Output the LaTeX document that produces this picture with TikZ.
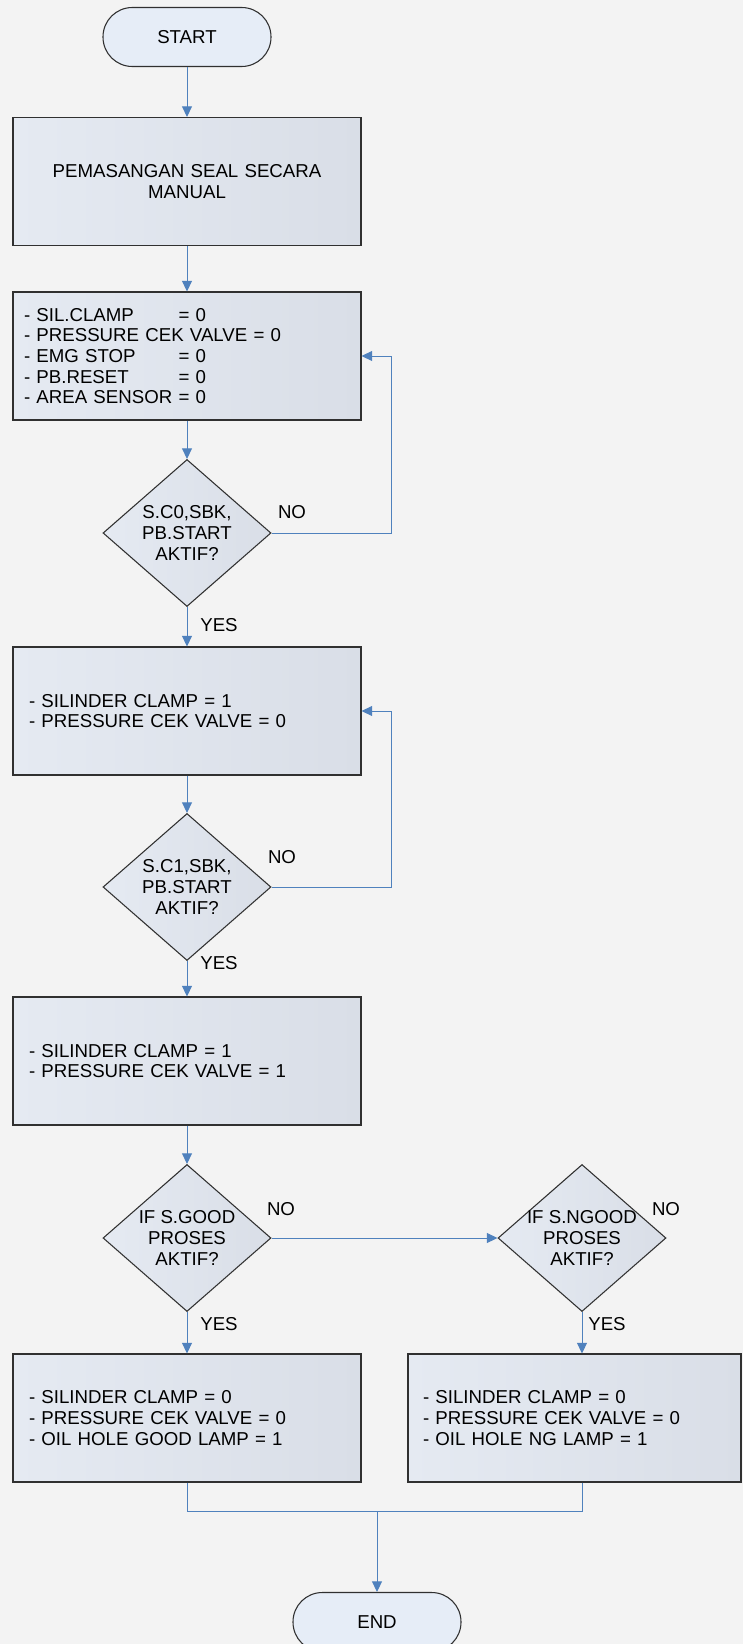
\documentclass[tikz,border=0pt]{standalone}
\usepackage{fontspec}
\setmainfont{Liberation Sans}
\usetikzlibrary{shapes.geometric,arrows.meta}

\definecolor{bggray}{HTML}{F3F3F3}
\definecolor{boxleft}{HTML}{E5EAF2}
\definecolor{boxright}{HTML}{D9DEE7}
\definecolor{termfill}{HTML}{E6EDF7}
\definecolor{flowblue}{HTML}{4F81BD}
\definecolor{edgegray}{HTML}{303030}

\begin{document}
\begin{tikzpicture}[
        % 1 unit = 1 pixel of the sheet
        x=0.75pt, y=-0.75pt,
        every node/.style={font=\fontsize{14pt}{15.5pt}\selectfont, text=black},
        % START / END
        terminal/.style={
            draw=edgegray, line width=0.8pt, fill=termfill,
            rectangle, rounded corners=22pt,
            minimum width=126pt, minimum height=44.25pt
        },
        % kotak proses
        process/.style={
            draw=edgegray, line width=0.8pt,
            left color=boxleft, right color=boxright,
            rectangle, minimum width=261pt, minimum height=96pt
        },
        steps/.style={process, align=left, inner xsep=12pt, text width=237pt},
        % keputusan
        decision/.style={
            draw=edgegray, line width=0.8pt,
            left color=boxleft, right color=boxright,
            diamond, minimum width=126pt, minimum height=110.25pt, inner sep=0pt
        },
        dectext/.style={align=center, inner sep=0pt},
        % panah alur
        flow/.style={draw=flowblue, line width=0.75pt, -{Triangle[length=8pt,width=7.5pt]}},
        link/.style={draw=flowblue, line width=0.75pt}
    ]

    \fill[bggray] (0,0) rectangle (743,1644);
    \useasboundingbox (0,0) rectangle (743,1644);

    % Kolom utama
    \node[terminal] (start) at (187,37) {START};
    \node[process, align=center, text width=240pt] (manual) at (187,181.5)
        {PEMASANGAN SEAL SECARA\\MANUAL};
    \node[steps, inner xsep=8.25pt, text width=244.5pt] (init) at (187,356) {%
        \leavevmode\rlap{- SIL.CLAMP}\phantom{- AREA SENSOR }= 0\\
        - PRESSURE CEK VALVE = 0\\
        \leavevmode\rlap{- EMG STOP}\phantom{- AREA SENSOR }= 0\\
        \leavevmode\rlap{- PB.RESET}\phantom{- AREA SENSOR }= 0\\
        - AREA SENSOR = 0};

    \node[decision] (dec1) at (187,533) {};
    \node[dectext] (dec1txt) at (dec1) {S.C0,SBK,\\PB.START\\AKTIF?};

    \node[steps] (clamp) at (187,711)
        {- SILINDER CLAMP = 1\\- PRESSURE CEK VALVE = 0};

    \node[decision] (dec2) at (187,887) {};
    \node[dectext] (dec2txt) at (dec2) {S.C1,SBK,\\PB.START\\AKTIF?};

    \node[steps] (press) at (187,1061)
        {- SILINDER CLAMP = 1\\- PRESSURE CEK VALVE = 1};

    \node[decision] (good) at (187,1238) {};
    \node[dectext] (goodtxt) at (good) {IF S.GOOD\\PROSES\\AKTIF?};

    \node[decision] (ngood) at (582,1238) {};
    \node[dectext] (ngoodtxt) at (ngood) {IF S.NGOOD\\PROSES\\AKTIF?};

    % Hasil
    \node[steps] (okbox) at (187,1418)
        {- SILINDER CLAMP = 0\\- PRESSURE CEK VALVE = 0\\- OIL HOLE GOOD LAMP = 1};
    \node[steps, minimum width=249.75pt, inner xsep=11.25pt, text width=227.25pt] (ngbox) at (574.5,1418)
        {- SILINDER CLAMP = 0\\- PRESSURE CEK VALVE = 0\\- OIL HOLE NG LAMP = 1};

    \node[terminal] (end) at (377,1622) {END};

    % Label YES / NO
    \node (no1) at (292,512) {NO};
    \node (yes1) at (219,625) {YES};
    \node (no2) at (282,857) {NO};
    \node (yes2) at (219,963) {YES};
    \node (no3) at (281,1209) {NO};
    \node (yes3) at (219,1324) {YES};
    \node (no4) at (666,1209) {NO};
    \node (yes4) at (607,1324) {YES};

    % Alur
    \draw[flow] (start) -- (manual);
    \draw[flow] (manual) -- (init);
    \draw[flow] (init) -- (dec1);
    \draw[flow] (dec1) -- (clamp);
    \draw[flow] (dec1.east) -- ++(120,0) |- (init.east);
    \draw[flow] (clamp) -- (dec2);
    \draw[flow] (dec2) -- (press);
    \draw[flow] (dec2.east) -- ++(120,0) |- (clamp.east);
    \draw[flow] (press) -- (good);
    \draw[flow] (good) -- (ngood);
    \draw[flow] (good) -- (okbox);
    \draw[flow] (ngood) -- (ngood |- ngbox.north);

    % Gabungan ke END
    \coordinate (join) at (377,1511);
    \draw[link] (okbox.south) |- (join);
    \draw[link] (ngood |- ngbox.south) |- (join);
    \draw[flow] (join) -- (end);

\end{tikzpicture}
\end{document}
